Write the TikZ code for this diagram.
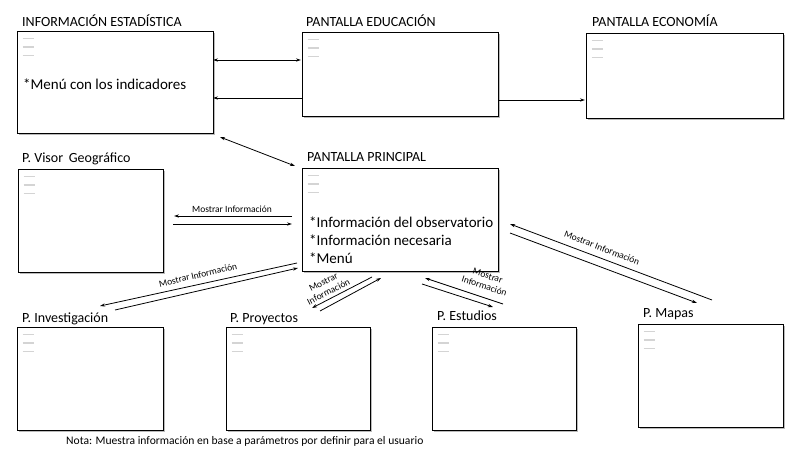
\documentclass[tikz,border=0pt]{standalone}
\usepackage{fontspec}
\setmainfont{Carlito}
\usetikzlibrary{arrows.meta,shadows}
\begin{document}
\begin{tikzpicture}[x=1pt,y=-1pt,
  scr/.style={draw=black,line width=0.9pt,fill=white,inner sep=0pt,
    drop shadow={shadow xshift=1.6pt,shadow yshift=-1.6pt,fill=black!45,opacity=0.6}},
  menuline/.style={draw=black!17,line width=1.5pt},
  ttl/.style={anchor=base west,inner sep=0pt,font=\fontsize{14}{16}\selectfont},
  body/.style={anchor=base west,inner sep=0pt,font=\fontsize{15}{17}\selectfont},
  lbl/.style={inner sep=0pt,font=\fontsize{9.5}{11}\selectfont,align=center},
  arr/.style={line width=0.8pt,-{Stealth[length=5pt,width=3.2pt]}},
  darr/.style={line width=0.8pt,{Stealth[length=5pt,width=3.2pt]}-{Stealth[length=5pt,width=3.2pt]}}]
\useasboundingbox[fill=white] (0,0) rectangle (800,450);

% screens
\node[scr,minimum width=196pt,minimum height=102pt] (ie)   at (115,82) {};
\node[scr,minimum width=196pt,minimum height=84pt]  (edu)  at (400,74) {};
\node[scr,minimum width=197pt,minimum height=85pt]  (eco)  at (684.5,75.5) {};
\node[scr,minimum width=145pt,minimum height=103pt] (pvg)  at (90.5,220.5) {};
\node[scr,minimum width=196pt,minimum height=103pt] (pp)   at (400,219.5) {};
\node[scr,minimum width=146pt,minimum height=103pt] (pinv) at (90,378.5) {};
\node[scr,minimum width=144pt,minimum height=103pt] (pproy) at (298,378.5) {};
\node[scr,minimum width=144pt,minimum height=103pt] (pest) at (504,378.5) {};
\node[scr,minimum width=145pt,minimum height=103pt] (pmap) at (710.5,375.5) {};

\foreach \n in {ie,edu,eco,pvg,pp,pinv,pproy,pest,pmap}{
  \foreach \d in {8,16.5,25}{
    \draw[menuline] ([xshift=6pt,yshift=-\d pt]\n.north west) -- ++(11,0);
  }
}

% titles
\node[ttl] (tie)   at (22,26)  {INFORMACIÓN ESTADÍSTICA};
\node[ttl] (tedu)  at (306,26) {PANTALLA EDUCACIÓN};
\node[ttl] (teco)  at (592,26) {PANTALLA ECONOMÍA};
\node[ttl] (tpvg)  at (22,162) {P. Visor\hspace{2.5pt} Geográfico};
\node[ttl] (tpp)   at (307,161) {PANTALLA PRINCIPAL};
\node[ttl] (tpinv) at (22,322) {P. Investigación};
\node[ttl] (tpproy) at (230,322) {P. Proyectos};
\node[ttl] (tpest) at (437,320) {P. Estudios};
\node[ttl] (tpmap) at (643,317) {P. Mapas};

% body texts
\node[body] (bie)  at (23,89)  {*Menú con los indicadores};
\node[body] (bpp1) at (309,227) {*Información del observatorio};
\node[body] (bpp2) at (309,245) {*Información necesaria};
\node[body] (bpp3) at (309,263) {*Menú};

% connector end points
\coordinate (a1) at (213,60);  \coordinate (a2) at (301,60);
\coordinate (b1) at (302,98);  \coordinate (b2) at (213,98);
\coordinate (c1) at (498,100); \coordinate (c2) at (585,100);
\coordinate (d1) at (220,137); \coordinate (d2) at (295,166);
\coordinate (e1) at (292,216); \coordinate (e2) at (174,216);
\coordinate (f1) at (173,224); \coordinate (f2) at (292,224);
\coordinate (g1) at (297,263); \coordinate (g2) at (100,306);
\coordinate (h1) at (115,310); \coordinate (h2) at (298,268);
\coordinate (i1) at (372,277); \coordinate (i2) at (312,308);
\coordinate (j1) at (320,311); \coordinate (j2) at (381,278);
\coordinate (k1) at (503,304); \coordinate (k2) at (425,278);
\coordinate (l1) at (422,284); \coordinate (l2) at (493,307);
\coordinate (m1) at (712,300); \coordinate (m2) at (510,224);
\coordinate (n1) at (510,233); \coordinate (n2) at (697,303);

\draw[darr] (a1) -- (a2);
\draw[arr] (b1) -- (b2);
\draw[arr] (c1) -- (c2);
\draw[darr] (d1) -- (d2);
\draw[arr] (e1) -- (e2);
\draw[arr] (f1) -- (f2);
\draw[arr] (g1) -- (g2);
\draw[arr] (h1) -- (h2);
\draw[arr] (i1) -- (i2);
\draw[arr] (j1) -- (j2);
\draw[arr] (k1) -- (k2);
\draw[arr] (l1) -- (l2);
\draw[arr] (m1) -- (m2);
\draw[arr] (n1) -- (n2);

% connector labels
\node[lbl,anchor=base] (l_pvg) at (232,212) {Mostrar Información};
\node[lbl,rotate=13] (l_inv) at (198,275) {Mostrar Información};
\node[lbl,rotate=27] (l_proy) at (326,287) {Mostrar\\Información};
\node[lbl,rotate=-18] (l_est) at (486,281) {Mostrar\\Información};
\node[lbl,rotate=-21] (l_map) at (602,248) {Mostrar Información};

% note
\node[anchor=base west,inner sep=0pt,font=\fontsize{11.6}{13}\selectfont] (nota) at (66,444)
  {Nota: Muestra información en base a parámetros por definir para el usuario};
\end{tikzpicture}
\end{document}
